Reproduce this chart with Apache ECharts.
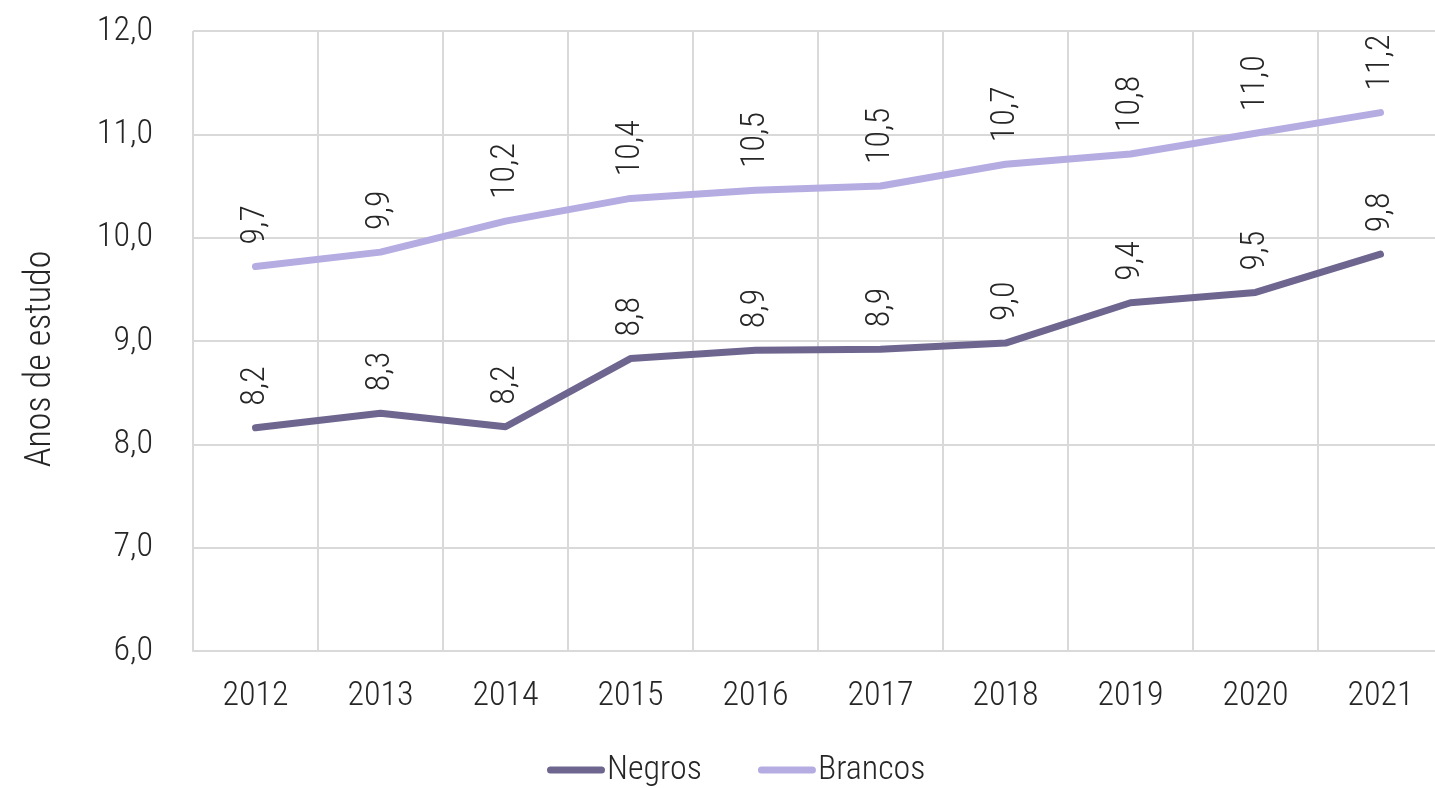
<!DOCTYPE html>
<html style="height: 100%">
<head>
    <meta charset="utf-8">
</head>
<body style="height: 100%; margin: 0; overflow: hidden">
<div id="container" style="width: 1445px; height: 788px"></div>
<script type="text/javascript" src="https://cdn.jsdelivr.net/npm/echarts@6/dist/echarts.min.js"></script>
<script type="text/javascript">
var anos = ['2012', '2013', '2014', '2015', '2016', '2017', '2018', '2019', '2020', '2021'];
var negros = [8.16, 8.30, 8.17, 8.83, 8.91, 8.92, 8.98, 9.37, 9.47, 9.84];
var brancos = [9.72, 9.86, 10.16, 10.38, 10.46, 10.50, 10.71, 10.81, 11.01, 11.21];

var fonte = '"Roboto Condensed", "DejaVu Sans Condensed", sans-serif';
var corTexto = '#262626';
var corGrade = '#d9d9d9';
// pílula para o ícone da legenda
var iconeLinha = 'path://M3.5,0 H54.5 A3.5,3.5 0 0 1 54.5,7 H3.5 A3.5,3.5 0 0 1 3.5,0 Z';

function virgula(v) {
    return v.toFixed(1).replace('.', ',');
}

function serie(nome, dados, cor) {
    return {
        name: nome,
        type: 'line',
        data: dados,
        symbol: 'circle',
        symbolSize: 0.1,
        lineStyle: { color: cor, width: 7, cap: 'round', join: 'round' },
        itemStyle: { color: cor },
        label: {
            show: true,
            position: 'top',
            distance: 22,
            rotate: 90,
            align: 'left',
            verticalAlign: 'middle',
            color: corTexto,
            fontFamily: fonte,
            fontWeight: 300,
            fontSize: 34,
            formatter: function (p) { return virgula(p.value); }
        }
    };
}

var myChart = echarts.init(document.getElementById('container'));

var option = {
    backgroundColor: '#fff',
    animation: false,
    // a grade passa um pouco da borda direita, como no original
    grid: { left: 193, top: 31, width: 1250, bottom: 137 },
    legend: {
        left: 542,
        top: 748,
        icon: iconeLinha,
        itemWidth: 58,
        itemHeight: 7,
        itemGap: 56,
        textStyle: { color: corTexto, fontFamily: fonte, fontWeight: 300, fontSize: 34, padding: [0, 0, 0, -3] },
        data: ['Negros', 'Brancos']
    },
    xAxis: {
        type: 'category',
        data: anos,
        boundaryGap: true,
        axisLine: { lineStyle: { color: corGrade, width: 2 } },
        axisTick: { show: false },
        splitLine: { show: true, lineStyle: { color: corGrade, width: 2 } },
        axisLabel: { color: corTexto, fontFamily: fonte, fontWeight: 300, fontSize: 34, margin: 28 }
    },
    yAxis: {
        type: 'value',
        min: 6,
        max: 12,
        interval: 1,
        name: 'Anos de estudo',
        nameLocation: 'middle',
        nameGap: 134,
        nameTextStyle: { color: corTexto, fontFamily: fonte, fontWeight: 300, fontSize: 36, padding: [0, 0, 0, -36] },
        axisLine: { show: false },
        axisTick: { show: false },
        splitLine: { lineStyle: { color: corGrade, width: 2 } },
        axisLabel: {
            color: corTexto, fontFamily: fonte, fontWeight: 300, fontSize: 34, margin: 40,
            formatter: function (v) { return virgula(v); }
        }
    },
    series: [
        serie('Negros', negros, '#6f6690'),
        serie('Brancos', brancos, '#b5ace2')
    ]
};

myChart.setOption(option);
</script>
</body>
</html>
